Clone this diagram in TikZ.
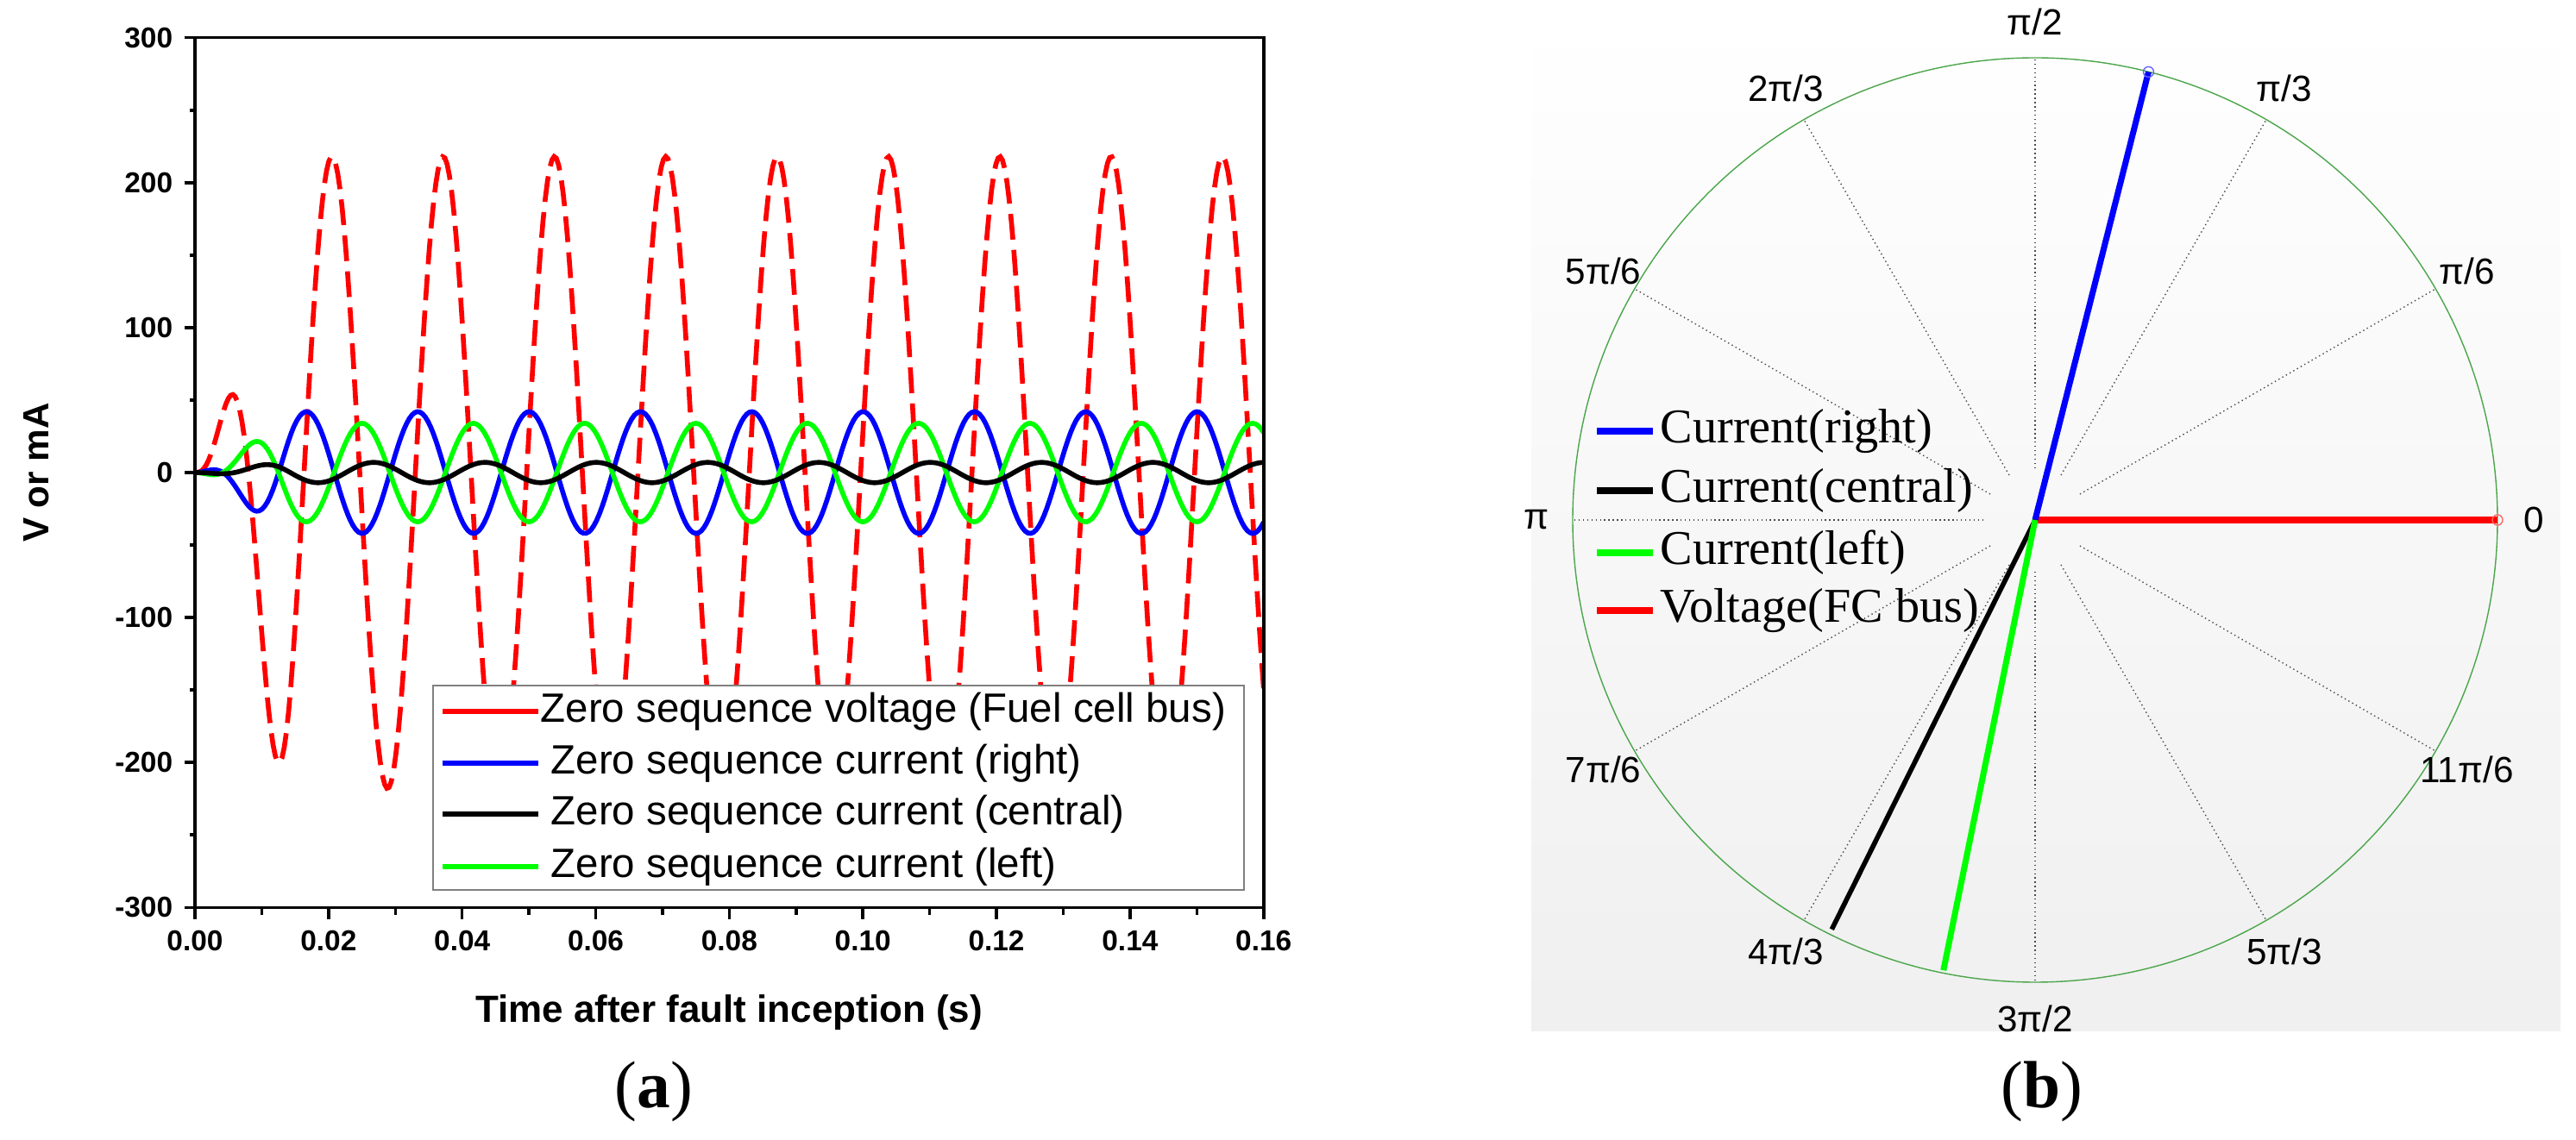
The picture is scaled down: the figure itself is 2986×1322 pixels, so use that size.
\documentclass[tikz,border=0pt]{standalone}
\usepackage{fontspec}
\setmainfont{Liberation Serif}
\newfontfamily\arial{Liberation Sans}
\usetikzlibrary{positioning,calc}
\tikzset{
  tick/.style={font=\arial\bfseries\fontsize{9.5}{11}\selectfont},
  leyenda/.style={font=\arial\fontsize{13.5}{16}\selectfont, anchor=west, inner sep=0pt},
  leyendab/.style={font=\fontsize{16}{18}\selectfont, anchor=west, inner sep=0pt},
  angulo/.style={font=\arial\fontsize{12}{14}\selectfont},
  radio/.style={black!70, densely dotted, thin},
  declare function={rampa(\t)=min(1,\t/15); env(\t)=rampa(\t)*rampa(\t)*(3-2*rampa(\t));},
}
\begin{document}
\begin{tikzpicture}[x=0.01cm,y=-0.01cm]
  \useasboundingbox (0,0) rectangle (2986,1322);

  % Grafica (a): curvas de secuencia cero (tiempo en ms)
  \begin{scope}[shift={(226,548)}, x=0.077375cm, y=0.0168cm]
    \begin{scope}
      \clip (0,-300) rectangle (160,300);
      % Voltaje
      \draw[red, line width=1.6pt, dash pattern=on 8.5pt off 3.4pt]
        plot[domain=0:160, samples=480]
        (\x, {218*cos(21.6*(\x-20.5))*env(\x)});
      % Corriente derecha
      \draw[blue, line width=1.6pt]
        plot[domain=0:160, samples=400]
        (\x, {42*cos(21.6*(\x-16.7))*env(\x)});
      % Corriente izquierda
      \draw[green, line width=1.6pt]
        plot[domain=0:160, samples=400]
        (\x, {34*cos(21.6*(\x-25))*env(\x)});
      % Corriente central
      \draw[black, line width=1.6pt]
        plot[domain=0:160, samples=400]
        (\x, {7*cos(21.6*(\x-10.1))*env(\x)});
    \end{scope}
    % Ejes
    \draw[line width=1pt] (0,-300) rectangle (160,300);
    \foreach \v in {-300,-200,...,300}
      \draw[line width=1pt] (0,\v) -- (-1.6,\v) node[tick, left] {\v};
    \foreach \v in {-250,-150,...,250}
      \draw[line width=1pt] (0,\v) -- (-0.8,\v);
    \foreach \t/\txt in {0/0.00,20/0.02,40/0.04,60/0.06,80/0.08,100/0.10,120/0.12,140/0.14,160/0.16}
      \draw[line width=1pt] (\t,-300) -- (\t,-308) node[tick, below] {\txt};
    \foreach \t in {10,30,...,150}
      \draw[line width=1pt] (\t,-300) -- (\t,-305);
  \end{scope}

  % Etiquetas de ejes
  \node[font=\arial\bfseries\fontsize{12.5}{14}\selectfont] (ejex) at (845,1174) {Time after fault inception (s)};
  \node[font=\arial\bfseries\fontsize{12}{14}\selectfont, rotate=90] (ejey) at (42,548) {V or mA};

  % Leyenda (a)
  \draw[fill=white, draw=gray] (502,795) rectangle (1442,1032);
  \draw[red, line width=1.6pt] (513,825) -- (624,825);
  \node[leyenda] (lv) at (626,825) {Zero sequence voltage (Fuel cell bus)};
  \draw[blue, line width=1.6pt] (513,885) -- (624,885);
  \node[leyenda] (lr) at (638,885) {Zero sequence current (right)};
  \draw[black, line width=1.6pt] (513,944) -- (624,944);
  \node[leyenda] (lc) at (638,944) {Zero sequence current (central)};
  \draw[green, line width=1.6pt] (513,1005) -- (624,1005);
  \node[leyenda] (ll) at (638,1005) {Zero sequence current (left)};

  \node[font=\fontsize{22}{24}\selectfont] (a) at (758,1266) {(\textbf{a})};

  % Grafica (b): diagrama fasorial
  \shade[top color=white, bottom color=black!6] (1775,15) rectangle (2968,1196);
  \coordinate (O) at (2359,603);
  \draw[green!50!black!70, thin] (O) circle (536);
  \foreach \a in {0,30,...,330}
    \draw[radio] ($(O)+(-\a:60)$) -- ($(O)+(-\a:536)$);
  \foreach \a/\txt in {0/{0}, 30/{π/6}, 60/{π/3}, 90/{π/2}, 120/{2π/3},
      150/{5π/6}, 180/{π}, 210/{7π/6}, 240/{4π/3}, 270/{3π/2},
      300/{5π/3}, 330/{11π/6}}
    \node[angulo] at ($(O)+(-\a:578)$) {\txt};

  % Fasores
  \draw[red, line width=2pt] (O) -- ++(0:536) coordinate (pv);
  \draw[red!60, thin] (pv) circle (6);
  \draw[blue, line width=2pt] (O) -- ++(-75.8:536) coordinate (pr);
  \draw[blue!60, thin] (pr) circle (6);
  \draw[black, line width=1.6pt] (O) -- ++(-243.6:530) coordinate (pc);
  \draw[green, line width=2pt] (O) -- ++(-258.5:533) coordinate (pl);

  % Leyenda (b)
  \draw[blue, line width=2pt] (1851,500) -- (1916,500);
  \node[leyendab] (br) at (1924,500) {Current(right)};
  \draw[black, line width=2pt] (1851,569) -- (1916,569);
  \node[leyendab] (bc) at (1924,569) {Current(central)};
  \draw[green, line width=2pt] (1851,641) -- (1916,641);
  \node[leyendab] (bl) at (1924,641) {Current(left)};
  \draw[red, line width=2pt] (1851,708) -- (1916,708);
  \node[leyendab] (bv) at (1924,708) {Voltage(FC bus)};

  \node[font=\fontsize{22}{24}\selectfont] (b) at (2367,1266) {(\textbf{b})};
\end{tikzpicture}
\end{document}
